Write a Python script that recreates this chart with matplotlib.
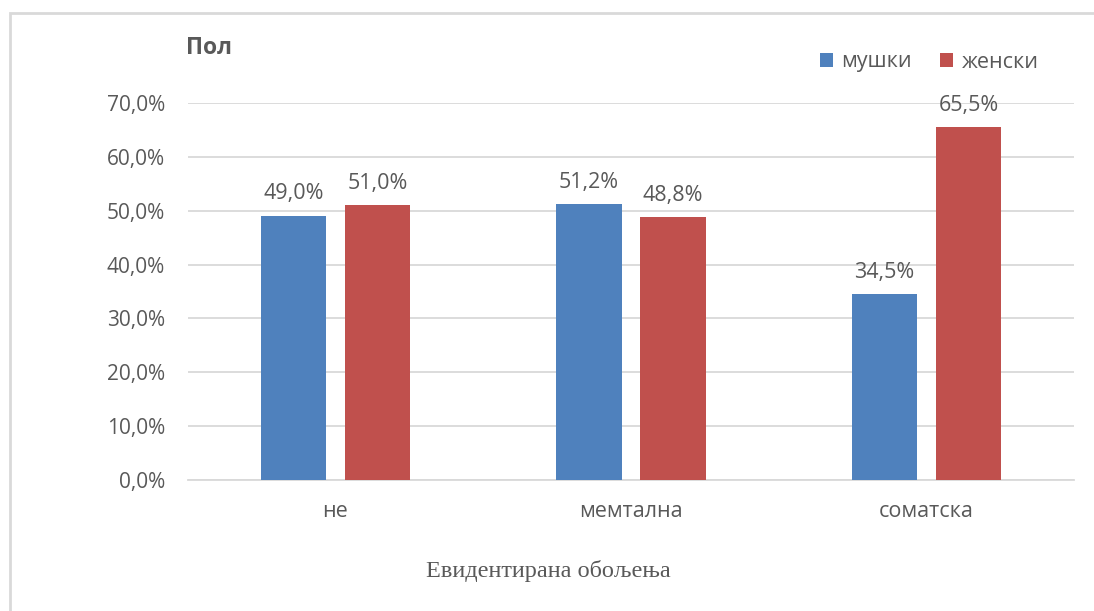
import matplotlib
matplotlib.use("Agg")
import matplotlib.pyplot as plt
from matplotlib.patches import Patch, Rectangle
import numpy as np

# Data
categories = ["не", "мемтална", "соматска"]
male = [49.0, 51.2, 34.5]
female = [51.0, 48.8, 65.5]
series_names = ["мушки", "женски"]
yticks = [0, 10, 20, 30, 40, 50, 60, 70]

BLUE = "#4F81BD"
RED = "#C0504D"
TEXT = "#595959"
GRID = "#D9D9D9"
FONT = ["Open Sans", "DejaVu Sans"]

plt.rcParams["font.family"] = FONT

fig = plt.figure(figsize=(10.94, 6.11), dpi=100)
ax = fig.add_axes([187.75 / 1094, 1 - 480 / 611, (1074.25 - 187.75) / 1094, (480 - 103) / 611])

x = np.arange(len(categories))
w = 0.223
off = 0.142
b1 = ax.bar(x - off, male, w, color=BLUE, zorder=3)
b2 = ax.bar(x + off, female, w, color=RED, zorder=3)

def pct(v):
    return f"{v:.1f}%".replace(".", ",")

for bars, vals in ((b1, male), (b2, female)):
    for rect, v in zip(bars, vals):
        ax.annotate(pct(v), (rect.get_x() + rect.get_width() / 2, v),
                    xytext=(0, 12), textcoords="offset points",
                    ha="center", va="baseline", fontsize=15.5, color=TEXT,
                    annotation_clip=False, zorder=4)

ax.set_xlim(-0.5, len(categories) - 0.5)
ax.set_ylim(0, 70)
ax.set_yticks(yticks)
ax.set_yticklabels([pct(t) for t in yticks])
ax.set_xticks(x)
ax.set_xticklabels(categories)
ax.tick_params(axis="both", length=0, labelcolor=TEXT)
ax.tick_params(axis="y", pad=16.5, labelsize=15)
ax.tick_params(axis="x", pad=15, labelsize=15.5)
ax.yaxis.grid(True, color=GRID, linewidth=1.3, zorder=0)
ax.set_axisbelow(True)
for s in ("top", "right", "left"):
    ax.spines[s].set_visible(False)
ax.spines["bottom"].set_color(GRID)
ax.spines["bottom"].set_linewidth(1.3)

# Axis title below categories
fig.text(548 / 1094, 1 - 571 / 611, "Евидентирана обољења", ha="center", va="center",
         fontsize=17.5, color=TEXT, family=["Liberation Serif", "DejaVu Serif"])

# Title
fig.text(186 / 1094, 1 - 48 / 611, "Пол", ha="left", va="center",
         fontsize=16.5, color=TEXT, fontweight="bold")

# Legend
handles = [Patch(facecolor=BLUE, edgecolor="none"), Patch(facecolor=RED, edgecolor="none")]
fig.legend(handles, series_names, loc="center right",
           bbox_to_anchor=(1039 / 1094, 1 - 62 / 611), ncol=2, frameon=False,
           fontsize=15.5, labelcolor=TEXT, handlelength=0.6, handleheight=0.6,
           handletextpad=0.4, columnspacing=1.32, borderaxespad=0, borderpad=0)

# Chart area border
fig.patches.append(Rectangle((9.5 / 1094, -0.1), 1.2, 1 - 12.5 / 611 + 0.1,
                             transform=fig.transFigure, fill=False,
                             edgecolor=GRID, linewidth=2))

fig.savefig("out.png", dpi=100, facecolor="white")
